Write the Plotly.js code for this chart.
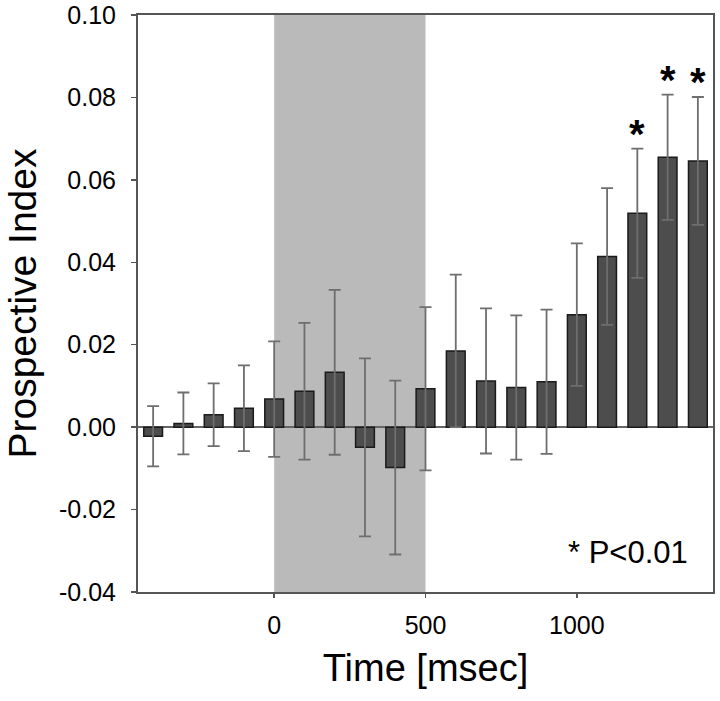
<!DOCTYPE html>
<html>
<head>
<meta charset="utf-8">
<script src="https://cdn.plot.ly/plotly-3.0.1.min.js"></script>
<style>html,body{margin:0;padding:0;background:#fff;}#chart{width:720px;height:701px;}</style>
</head>
<body>
<div id="chart"></div>
<script>
// Time bins (msec)
const timeMs = [-400, -300, -200, -100, 0, 100, 200, 300, 400, 500, 600, 700, 800, 900, 1000, 1100, 1200, 1300, 1400];
// Prospective index (mean)
const prospectiveIndex = [-0.0022, 0.0009, 0.0030, 0.0046, 0.0068, 0.0087, 0.0133, -0.0049, -0.0098, 0.0093, 0.0185, 0.0112, 0.0096, 0.0110, 0.0273, 0.0414, 0.0519, 0.0655, 0.0646];
// Error (symmetric)
const errorValues = [0.0073, 0.0075, 0.0076, 0.0104, 0.0140, 0.0166, 0.0200, 0.0216, 0.0211, 0.0198, 0.0185, 0.0176, 0.0175, 0.0175, 0.0173, 0.0166, 0.0157, 0.0152, 0.0155];
// Significant bins
const significantTimes = [1200, 1300, 1400];
// Shaded period (msec)
const shadeStart = 0, shadeEnd = 500;
const yTickVals = [-0.04, -0.02, 0.00, 0.02, 0.04, 0.06, 0.08, 0.10];
const xTickVals = [0, 500, 1000];

const bars = {
  type: 'bar',
  x: timeMs,
  y: prospectiveIndex,
  width: 62,
  marker: {color: '#4d4d4d', line: {color: '#1a1a1a', width: 1.5}},
  error_y: {type: 'data', array: errorValues, visible: true, color: '#6e6e6e', thickness: 1.8, width: 6},
  hoverinfo: 'x+y'
};

const starAnnotations = significantTimes.map(t => {
  const i = timeMs.indexOf(t);
  return {
    x: t, y: prospectiveIndex[i] + errorValues[i], xref: 'x', yref: 'y',
    text: '<b>*</b>', showarrow: false, yanchor: 'bottom', yshift: -9,
    font: {family: 'Liberation Sans, Arial, sans-serif', size: 40, color: '#000'}
  };
});

const layout = {
  width: 720, height: 701,
  margin: {l: 138, r: 7, t: 15, b: 109},
  paper_bgcolor: '#fff', plot_bgcolor: 'rgba(0,0,0,0)',
  showlegend: false,
  font: {family: 'Liberation Sans, Arial, sans-serif', color: '#000'},
  xaxis: {
    range: [-450, 1450], tickvals: xTickVals, ticktext: xTickVals.map(String),
    ticks: 'outside', ticklen: 4, tickcolor: '#555', tickwidth: 1.5,
    ticklabelstandoff: 6,
    showline: true, linecolor: '#555', linewidth: 2, mirror: true,
    showgrid: false, zeroline: false,
    tickfont: {size: 25},
    title: {text: 'Time [msec]', font: {size: 38}, standoff: 16}
  },
  yaxis: {
    range: [-0.04, 0.10], tickvals: yTickVals, ticktext: yTickVals.map(v => v.toFixed(2)),
    ticks: 'outside', ticklen: 5, tickcolor: '#555', tickwidth: 1.5,
    ticklabelstandoff: 10,
    showline: true, linecolor: '#555', linewidth: 2, mirror: true,
    showgrid: false, zeroline: true, zerolinecolor: '#666', zerolinewidth: 1.5,
    tickfont: {size: 25},
    title: {text: 'Prospective Index', font: {size: 39}, standoff: 10}
  },
  shapes: [{
    type: 'rect', xref: 'x', yref: 'paper', x0: shadeStart, x1: shadeEnd, y0: 0, y1: 1,
    fillcolor: '#bababa', line: {width: 0}, layer: 'below'
  }],
  annotations: starAnnotations.concat([{
    xref: 'paper', yref: 'paper', x: 0.852, y: 0.069, xanchor: 'center', yanchor: 'middle',
    text: '* P&lt;0.01', showarrow: false,
    font: {family: 'Liberation Sans, Arial, sans-serif', size: 31, color: '#000'}
  }])
};

Plotly.newPlot('chart', [bars], layout, {displayModeBar: false, staticPlot: true});
</script>
</body>
</html>
